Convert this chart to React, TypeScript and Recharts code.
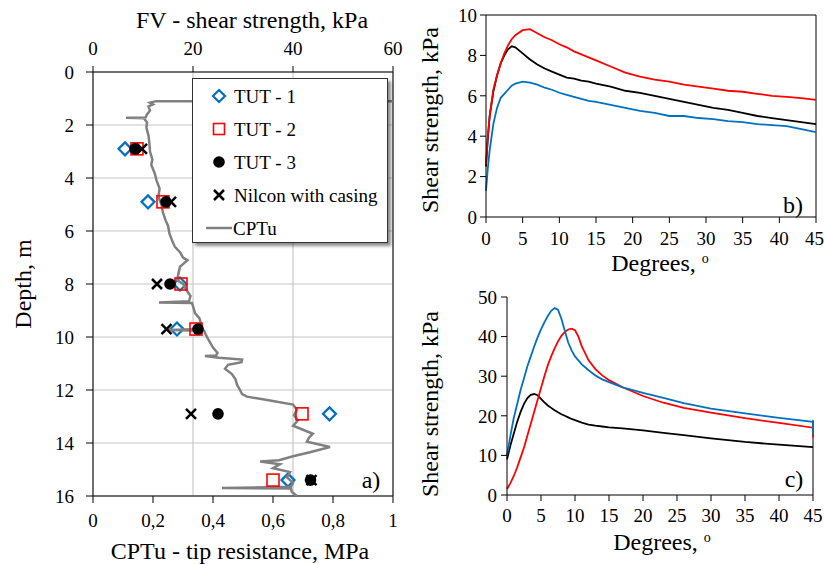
import React from 'react';
import {
  CartesianGrid,
  Line,
  LineChart,
  ReferenceLine,
  Scatter,
  ScatterChart,
  XAxis,
  YAxis,
} from 'recharts';

const FONT = "'Liberation Serif', 'Times New Roman', Times, serif";

// panel a) - field vane tests (kPa) at these depths (m)
const testDepth = [2.9, 4.9, 8.0, 9.7, 12.9, 15.4];
const tut1 = [6.4, 11.0, 17.4, 16.8, 47.3, 39.0];
const tut2 = [8.8, 14.0, 17.6, 20.6, 41.8, 36.0];
const tut3 = [8.4, 14.6, 15.4, 21.0, 25.0, 43.5];
const nilcon = [9.8, 15.6, 12.8, 14.7, 19.6, 43.7];

// CPTu profile: depth (m) and tip resistance (MPa)
const cptuDepth = [
  1.1, 1.1, 1.16, 1.22, 1.3, 1.45, 1.6, 1.72, 1.73, 1.75, 1.9, 2.1, 2.4, 2.7, 3.0, 3.3, 3.5, 3.8,
  4.1, 4.4, 4.7, 5.0, 5.3, 5.6, 5.8, 6.1, 6.4, 6.6, 6.8, 7.0, 7.1, 7.25, 7.35, 7.6, 7.85, 8.0,
  8.2, 8.45, 8.65, 8.7, 8.72, 8.9, 9.1, 9.3, 9.5, 9.7, 9.74, 9.76, 10.0, 10.2, 10.4, 10.6, 10.7,
  10.72, 10.78, 10.85, 10.95, 11.05, 11.2, 11.4, 11.6, 11.8, 12.0, 12.15, 12.25, 12.4, 12.55,
  12.75, 12.95, 13.15, 13.35, 13.5, 13.65, 13.8, 13.95, 14.15, 14.35, 14.5, 14.65, 14.7, 14.8,
  14.95, 15.1, 15.3, 15.5, 15.65, 15.7, 15.72, 15.85, 16.0,
];
const cptuQt = [
  1.0, 0.21, 0.19, 0.2, 0.185, 0.19, 0.18, 0.175, 0.11, 0.17, 0.18, 0.178, 0.185, 0.188, 0.19,
  0.198, 0.194, 0.205, 0.212, 0.222, 0.218, 0.228, 0.233, 0.242, 0.25, 0.255, 0.265, 0.273, 0.29,
  0.3, 0.315, 0.3, 0.29, 0.285, 0.28, 0.3, 0.31, 0.325, 0.32, 0.22, 0.33, 0.335, 0.34, 0.355, 0.36,
  0.365, 0.25, 0.37, 0.38, 0.39, 0.4, 0.415, 0.41, 0.373, 0.42, 0.497, 0.495, 0.45, 0.44, 0.463,
  0.475, 0.48, 0.49, 0.497, 0.513, 0.59, 0.667, 0.68, 0.67, 0.683, 0.667, 0.7, 0.733, 0.72, 0.713,
  0.79, 0.723, 0.667, 0.62, 0.557, 0.623, 0.6, 0.657, 0.647, 0.667, 0.66, 0.43, 0.66, 0.663, 0.68,
];

const qtTicks = [0, 0.2, 0.4, 0.6, 0.8, 1];
const fvTicks = [0, 20, 40, 60];
const depthTicks = [0, 2, 4, 6, 8, 10, 12, 14, 16];

// panel b) - shear strength (kPa) vs rotation (degrees)
const bDegrees = [
  0, 0.25, 0.5, 1, 1.5, 2, 2.5, 3, 3.5, 4, 5, 6, 7, 8, 9, 10, 11, 12, 13, 14, 15, 17, 19, 21, 23,
  25, 27, 29, 31, 33, 35, 37, 39, 41, 43, 45,
];
const bRed = [
  2.6, 4.0, 5.0, 6.3, 7.0, 7.6, 8.1, 8.5, 8.8, 9.0, 9.25, 9.3, 9.1, 8.9, 8.75, 8.55, 8.4, 8.2, 8.05,
  7.9, 7.75, 7.45, 7.15, 6.95, 6.8, 6.7, 6.55, 6.45, 6.35, 6.25, 6.2, 6.1, 6.0, 5.95, 5.88, 5.8,
];
const bBlack = [
  2.5, 3.9, 5.0, 6.2, 7.0, 7.6, 8.0, 8.3, 8.45, 8.4, 8.1, 7.8, 7.55, 7.35, 7.2, 7.05, 6.9, 6.85,
  6.75, 6.7, 6.6, 6.45, 6.25, 6.15, 6.0, 5.85, 5.7, 5.55, 5.4, 5.3, 5.15, 5.0, 4.9, 4.8, 4.7, 4.6,
];
const bBlue = [
  1.3, 2.4, 3.3, 4.6, 5.4, 5.9, 6.1, 6.3, 6.5, 6.6, 6.7, 6.65, 6.55, 6.4, 6.3, 6.15, 6.05, 5.95,
  5.85, 5.75, 5.7, 5.55, 5.4, 5.25, 5.15, 5.0, 5.0, 4.9, 4.85, 4.75, 4.7, 4.6, 4.55, 4.5, 4.35, 4.2,
];
const bTicksX = [0, 5, 10, 15, 20, 25, 30, 35, 40, 45];
const bTicksY = [0, 2, 4, 6, 8, 10];

// panel c)
const cDegrees = [
  0, 0.5, 1, 1.5, 2, 2.5, 3, 3.5, 4, 4.5, 5, 5.5, 6, 6.5, 7, 7.5, 8, 8.5, 9, 9.5, 10, 10.5, 11, 12,
  13, 14, 15, 17, 20, 23, 26, 30, 35, 40, 45, 45,
];
const cBlue = [
  10, 15, 19.5, 23, 26.5, 29.5, 32.5, 35, 37.5, 39.8, 41.8, 43.6, 45.2, 46.5, 47.2, 46.8, 44.5,
  41.5, 38.5, 36.5, 35, 34, 33, 31.5, 30.2, 29.2, 28.5, 27.2, 25.8, 24.5, 23.2, 21.8, 20.6, 19.5,
  18.5, 15.2,
];
const cRed = [
  1.5, 3, 4.8, 7, 9.5, 12, 15, 18, 21, 24, 27, 30, 32.8, 35, 37, 38.8, 40.2, 41.2, 41.8, 42, 41.6,
  40, 37.5, 34, 31.8, 30.2, 29, 27.2, 25, 23.3, 22, 20.8, 19.4, 18.2, 17, 14.5,
];
const cBlack = [
  9, 12.5, 15.5, 18.5, 21, 23, 24.5, 25.3, 25.5, 25.2, 24.3, 23.4, 22.6, 22, 21.4, 20.9, 20.4, 20,
  19.6, 19.2, 18.9, 18.6, 18.3, 17.8, 17.5, 17.3, 17.1, 16.8, 16.3, 15.7, 15.1, 14.3, 13.4, 12.7,
  12.1, 12.1,
];
const cTicksY = [0, 10, 20, 30, 40, 50];

const toPoints = (xs: number[]) => xs.map((x, i) => ({ x, y: testDepth[i] }));
const cptuData = cptuDepth.map((d, i) => ({ x: cptuQt[i], y: d }));
const bData = bDegrees.map((deg, i) => ({ deg, red: bRed[i], black: bBlack[i], blue: bBlue[i] }));
const cData = cDegrees.map((deg, i) => ({ deg, red: cRed[i], black: cBlack[i], blue: cBlue[i] }));

const tick = { fill: '#000', fontSize: 19, fontFamily: FONT, style: { fontFamily: FONT } };
const comma = (v: number) => String(v).replace('.', ',');

const Diamond = ({ cx, cy }: any) => (
  <polygon
    points={`${cx},${cy - 6.5} ${cx + 6.5},${cy} ${cx},${cy + 6.5} ${cx - 6.5},${cy}`}
    fill="none"
    stroke="#0070C0"
    strokeWidth={2.2}
  />
);
const Square = ({ cx, cy }: any) => (
  <rect x={cx - 6} y={cy - 6} width={12} height={12} fill="none" stroke="#FF0000" strokeWidth={1.6} />
);
const Dot = ({ cx, cy }: any) => <circle cx={cx} cy={cy} r={5.8} fill="#000" />;
const Cross = ({ cx, cy }: any) => (
  <path d={`M${cx - 5},${cy - 5}L${cx + 5},${cy + 5}M${cx + 5},${cy - 5}L${cx - 5},${cy + 5}`} stroke="#000" strokeWidth={2.5} />
);
const NoMark = () => <g />;

const Caption = ({ x, y, rotate = 0, size = 24, children }: any) => (
  <div
    style={{
      position: 'absolute',
      left: x,
      top: y,
      transform: `translate(-50%, -50%) rotate(${rotate}deg)`,
      fontFamily: FONT,
      fontSize: size,
      lineHeight: 1,
      whiteSpace: 'nowrap',
      color: '#000',
    }}
  >
    {children}
  </div>
);

const legendRows = [
  { label: 'TUT - 1', mark: <polygon points="8,2 14,8 8,14 2,8" fill="none" stroke="#0070C0" strokeWidth={2.2} /> },
  { label: 'TUT - 2', mark: <rect x={2.5} y={2.5} width={11} height={11} fill="none" stroke="#FF0000" strokeWidth={1.6} /> },
  { label: 'TUT - 3', mark: <circle cx={8} cy={8} r={5.8} fill="#000" /> },
  { label: 'Nilcon with casing', mark: <path d="M3,3L13,13M13,3L3,13" stroke="#000" strokeWidth={2.5} /> },
];

const Degrees = () => (
  <span style={{ fontFamily: FONT }}>
    Degrees, <sup style={{ fontSize: 14, verticalAlign: 8 }}>o</sup>
  </span>
);

const svgFont = { fontFamily: FONT };

export default function App() {
  return (
    <div
      style={{
        position: 'absolute',
        left: 0,
        top: 0,
        width: 824,
        height: 564,
        background: '#fff',
        overflow: 'hidden',
        fontFamily: FONT,
      }}
    >
      <div style={{ position: 'absolute', left: 0, top: 0 }}>
        <ScatterChart width={420} height={564} style={svgFont} margin={{ top: 32, right: 27, bottom: 28, left: 33 }}>
          <CartesianGrid xAxisId="fv" stroke="#c8c8c8" strokeWidth={1.2} />
          <XAxis
            xAxisId="q"
            type="number"
            dataKey="x"
            domain={[0, 1]}
            ticks={qtTicks}
            tickFormatter={comma}
            height={40}
            tick={tick}
            tickSize={7}
            tickMargin={11}
            stroke="#000"
          />
          <XAxis
            xAxisId="fv"
            orientation="top"
            type="number"
            dataKey="x"
            domain={[0, 60]}
            ticks={fvTicks}
            height={40}
            tick={tick}
            tickSize={6}
            tickMargin={11}
            stroke="#000"
          />
          <YAxis
            type="number"
            dataKey="y"
            reversed
            domain={[0, 16]}
            ticks={depthTicks}
            width={60}
            tick={tick}
            tickSize={7}
            tickMargin={12}
            stroke="#000"
          />
          <ReferenceLine xAxisId="q" x={1} stroke="#000" />
          <Scatter xAxisId="fv" data={toPoints(tut1)} shape={Diamond} isAnimationActive={false} />
          <Scatter
            xAxisId="q"
            data={cptuData}
            shape={NoMark}
            line={{ stroke: '#808080', strokeWidth: 2.5 }}
            lineType="joint"
            isAnimationActive={false}
          />
          <Scatter xAxisId="fv" data={toPoints(tut2)} shape={Square} isAnimationActive={false} />
          <Scatter xAxisId="fv" data={toPoints(tut3)} shape={Dot} isAnimationActive={false} />
          <Scatter xAxisId="fv" data={toPoints(nilcon)} shape={Cross} isAnimationActive={false} />
        </ScatterChart>
      </div>

      <div style={{ position: 'absolute', left: 410, top: 0 }}>
        <LineChart width={414} height={290} data={bData} style={svgFont} margin={{ top: 15, right: 8, bottom: 43, left: 26 }}>
          <XAxis
            type="number"
            dataKey="deg"
            domain={[0, 45]}
            ticks={bTicksX}
            height={30}
            tick={tick}
            tickSize={6}
            tickMargin={9}
            stroke="#000"
          />
          <YAxis domain={[0, 10]} ticks={bTicksY} width={50} tick={tick} tickSize={6} tickMargin={3} stroke="#000" />
          <ReferenceLine y={10} stroke="#000" />
          <ReferenceLine x={45} stroke="#000" />
          <Line type="linear" dataKey="black" stroke="#000" strokeWidth={1.8} dot={false} isAnimationActive={false} />
          <Line type="linear" dataKey="blue" stroke="#0070C0" strokeWidth={1.8} dot={false} isAnimationActive={false} />
          <Line type="linear" dataKey="red" stroke="#FF0000" strokeWidth={1.8} dot={false} isAnimationActive={false} />
        </LineChart>
      </div>

      <div style={{ position: 'absolute', left: 410, top: 280 }}>
        <LineChart width={414} height={284} data={cData} style={svgFont} margin={{ top: 17, right: 11, bottom: 39, left: 47 }}>
          <XAxis
            type="number"
            dataKey="deg"
            domain={[0, 45]}
            ticks={bTicksX}
            height={30}
            tick={tick}
            tickSize={6}
            tickMargin={8}
            stroke="#000"
          />
          <YAxis domain={[0, 50]} ticks={cTicksY} width={50} tick={tick} tickSize={6} tickMargin={4} stroke="#000" />
          <ReferenceLine segment={[{ x: 45, y: 0 }, { x: 45, y: 19 }]} stroke="#000" />
          <Line type="linear" dataKey="black" stroke="#000" strokeWidth={1.8} dot={false} isAnimationActive={false} />
          <Line type="linear" dataKey="red" stroke="#FF0000" strokeWidth={1.8} dot={false} isAnimationActive={false} />
          <Line type="linear" dataKey="blue" stroke="#0070C0" strokeWidth={1.8} dot={false} isAnimationActive={false} />
        </LineChart>
      </div>

      <div
        style={{
          position: 'absolute',
          left: 192,
          top: 78,
          width: 196,
          height: 165,
          boxSizing: 'border-box',
          border: '1.5px solid #333',
          background: '#fff',
          boxShadow: '3px 3px 3px rgba(0,0,0,0.45)',
          fontFamily: FONT,
          fontSize: 19,
        }}
      >
        {legendRows.map((r, i) => (
          <div key={r.label} style={{ position: 'absolute', left: 0, top: 17 + i * 33 - 11, height: 22, display: 'flex', alignItems: 'center' }}>
            <svg width={16} height={16} style={{ marginLeft: 18 }}>
              {r.mark}
            </svg>
            <span style={{ marginLeft: 7, lineHeight: 1, fontFamily: FONT }}>{r.label}</span>
          </div>
        ))}
        <div style={{ position: 'absolute', left: 0, top: 149 - 11, height: 22, display: 'flex', alignItems: 'center' }}>
          <svg width={26} height={16} style={{ marginLeft: 13 }}>
            <line x1={0} y1={8} x2={26} y2={8} stroke="#808080" strokeWidth={2.5} />
          </svg>
          <span style={{ marginLeft: 1, lineHeight: 1, fontFamily: FONT }}>CPTu</span>
        </div>
      </div>

      <Caption x={252} y={20}>FV - shear strength, kPa</Caption>
      <Caption x={240} y={551}>CPTu - tip resistance, MPa</Caption>
      <Caption x={23} y={284} rotate={-90}>Depth, m</Caption>
      <Caption x={371} y={480}>a)</Caption>

      <Caption x={430} y={120} rotate={-90}>Shear strength, kPa</Caption>
      <Caption x={660} y={263}><Degrees /></Caption>
      <Caption x={793} y={205}>b)</Caption>

      <Caption x={430} y={404} rotate={-90}>Shear strength, kPa</Caption>
      <Caption x={662} y={542}><Degrees /></Caption>
      <Caption x={794} y={479}>c)</Caption>
    </div>
  );
}
